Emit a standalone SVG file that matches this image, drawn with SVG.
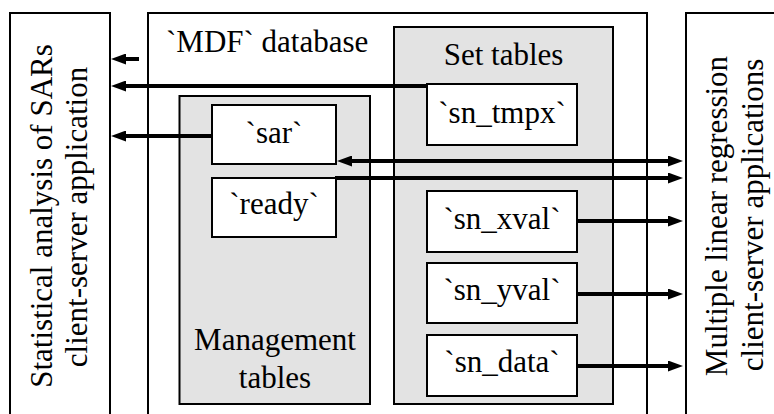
<svg xmlns="http://www.w3.org/2000/svg" width="774" height="414" viewBox="0 0 774 414">
<style>
  .box { fill: #ffffff; stroke: #000000; stroke-width: 2; }
  .grp { fill: #e3e3e3; stroke: #000000; stroke-width: 2; }
  text { font-family: 'Liberation Serif', 'DejaVu Serif', serif; font-size: 31px; fill: #000000; }
  .mid { text-anchor: middle; }
  .conn { stroke: #000000; stroke-width: 4; fill: none; }
</style>
<defs>
  <marker id="ah" viewBox="0 0 15 11" markerWidth="15" markerHeight="11" refX="5" refY="5.5" orient="auto-start-reverse" markerUnits="userSpaceOnUse">
    <path d="M0,0 L15,5.5 L0,11 z" fill="#000000"/>
  </marker>
</defs>
<rect x="0" y="0" width="774" height="414" fill="#ffffff"/>

<g id="sar-app">
  <rect class="box" x="10" y="13" width="100" height="420"/>
  <text class="mid" transform="translate(52,216) rotate(-90)">Statistical analysis of SARs</text>
  <text class="mid" transform="translate(87,217) rotate(-90)">client-server application</text>
</g>

<g id="mdf-db">
  <rect class="box" x="148" y="13" width="499" height="420"/>
  <text x="166" y="52">`MDF` database</text>
</g>

<g id="mlr-app">
  <rect class="box" x="686" y="13" width="120" height="420"/>
  <text class="mid" transform="translate(727,216) rotate(-90)">Multiple linear regression</text>
  <text class="mid" transform="translate(763,215) rotate(-90)">client-server applications</text>
</g>

<g id="management-tables">
  <rect class="grp" x="179.5" y="96" width="190.5" height="308"/>
  <text class="mid" x="275" y="350">Management</text>
  <text class="mid" x="275" y="388">tables</text>
</g>

<g id="set-tables">
  <rect class="grp" x="394" y="27" width="219" height="377"/>
  <text class="mid" x="503.5" y="65">Set tables</text>
</g>

<g id="sar">
  <rect class="box" x="212" y="105" width="124" height="59"/>
  <text class="mid" x="274" y="143">`sar`</text>
</g>

<g id="ready">
  <rect class="box" x="212" y="178" width="124" height="59"/>
  <text class="mid" x="274" y="214">`ready`</text>
</g>

<g id="sn_tmpx">
  <rect class="box" x="427" y="84" width="150" height="61"/>
  <text class="mid" x="502" y="123">`sn_tmpx`</text>
</g>

<g id="sn_xval">
  <rect class="box" x="427" y="191" width="150" height="61"/>
  <text class="mid" x="502" y="229">`sn_xval`</text>
</g>

<g id="sn_yval">
  <rect class="box" x="427" y="263" width="150" height="60"/>
  <text class="mid" x="502" y="300">`sn_yval`</text>
</g>

<g id="sn_data">
  <rect class="box" x="427" y="335" width="150" height="61"/>
  <text class="mid" x="502" y="372">`sn_data`</text>
</g>

<g id="connectors">
  <line class="conn" x1="139" y1="59" x2="121" y2="59" marker-end="url(#ah)"/>
  <line class="conn" x1="427" y1="86" x2="121" y2="86" marker-end="url(#ah)"/>
  <line class="conn" x1="212" y1="136" x2="121" y2="136" marker-end="url(#ah)"/>
  <line class="conn" x1="347" y1="161" x2="673" y2="161" marker-start="url(#ah)" marker-end="url(#ah)"/>
  <line class="conn" x1="335" y1="178" x2="673" y2="178" marker-end="url(#ah)"/>
  <line class="conn" x1="577" y1="221" x2="673" y2="221" marker-end="url(#ah)"/>
  <line class="conn" x1="577" y1="294" x2="673" y2="294" marker-end="url(#ah)"/>
  <line class="conn" x1="577" y1="366" x2="673" y2="366" marker-end="url(#ah)"/>
</g>
</svg>
